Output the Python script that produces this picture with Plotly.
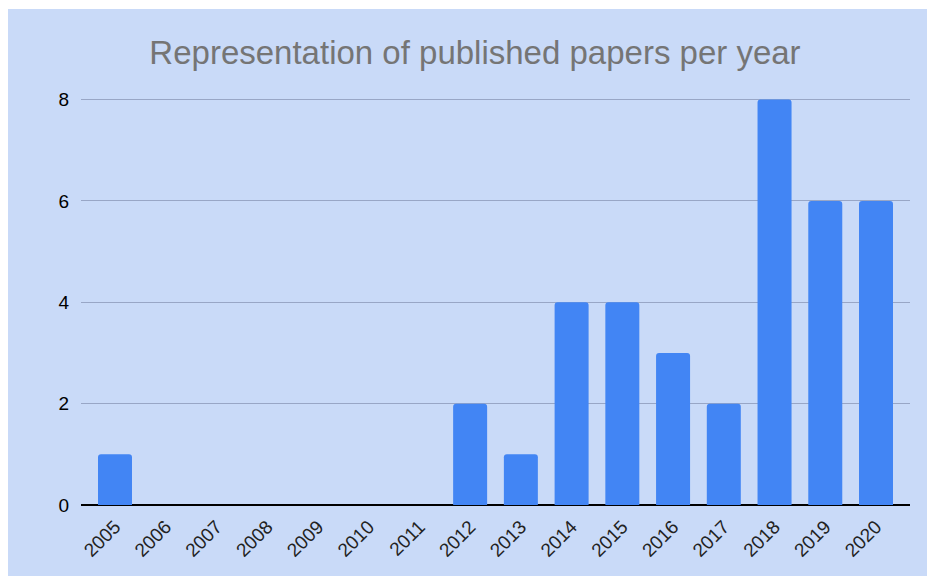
import plotly.graph_objects as go

years = ["2005", "2006", "2007", "2008", "2009", "2010", "2011", "2012",
         "2013", "2014", "2015", "2016", "2017", "2018", "2019", "2020"]
papers = [1, 0, 0, 0, 0, 0, 0, 2, 1, 4, 4, 3, 2, 8, 6, 6]
y_ticks = [0, 2, 4, 6, 8]

W, H = 927, 576
L, R, T, B = 81, 17, 97, 71
BG = "#c9daf8"

fig = go.Figure(go.Bar(
    x=years, y=papers, marker=dict(color="#4285f4", line=dict(width=0)),
    width=0.67,
))

pw = W - L - R
ph = H - T - B
x0 = (8 - L) / pw
y1 = (H - B - 9) / ph
fig.add_shape(type="rect", xref="paper", yref="paper", x0=x0, x1=(W - L + 5) / pw,
              y0=-(B + 5) / ph, y1=y1, fillcolor=BG, line=dict(width=0), layer="below")

fig.update_layout(
    width=W, height=H,
    margin=dict(l=L, r=R, t=T, b=B, pad=0),
    paper_bgcolor="white", plot_bgcolor=BG,
    barcornerradius=3,
    showlegend=False,
    font=dict(family="Liberation Sans, Arial, sans-serif", color="#000000"),
    title=dict(text="Representation of published papers per year", x=(475 - L) / pw,
               xanchor="center", xref="paper", y=1 - 52 / H, yanchor="middle",
               font=dict(size=33, color="#757575")),
    xaxis=dict(type="category", range=[-0.67, 15.67], tickangle=-45,
               tickfont=dict(size=19, color="#222222"), showgrid=False,
               ticks="", ticklen=0, showline=False, ticklabelstandoff=6),
    yaxis=dict(range=[0, 8.05], tickvals=y_ticks, ticktext=[str(v) for v in y_ticks],
               showgrid=True, gridcolor="#98a6c6", gridwidth=1,
               zeroline=True, zerolinecolor="#000000", zerolinewidth=2,
               tickfont=dict(size=19, color="#000000"), ticks="", ticklabelstandoff=11,
               showline=False),
)

fig.write_html("out.html")
